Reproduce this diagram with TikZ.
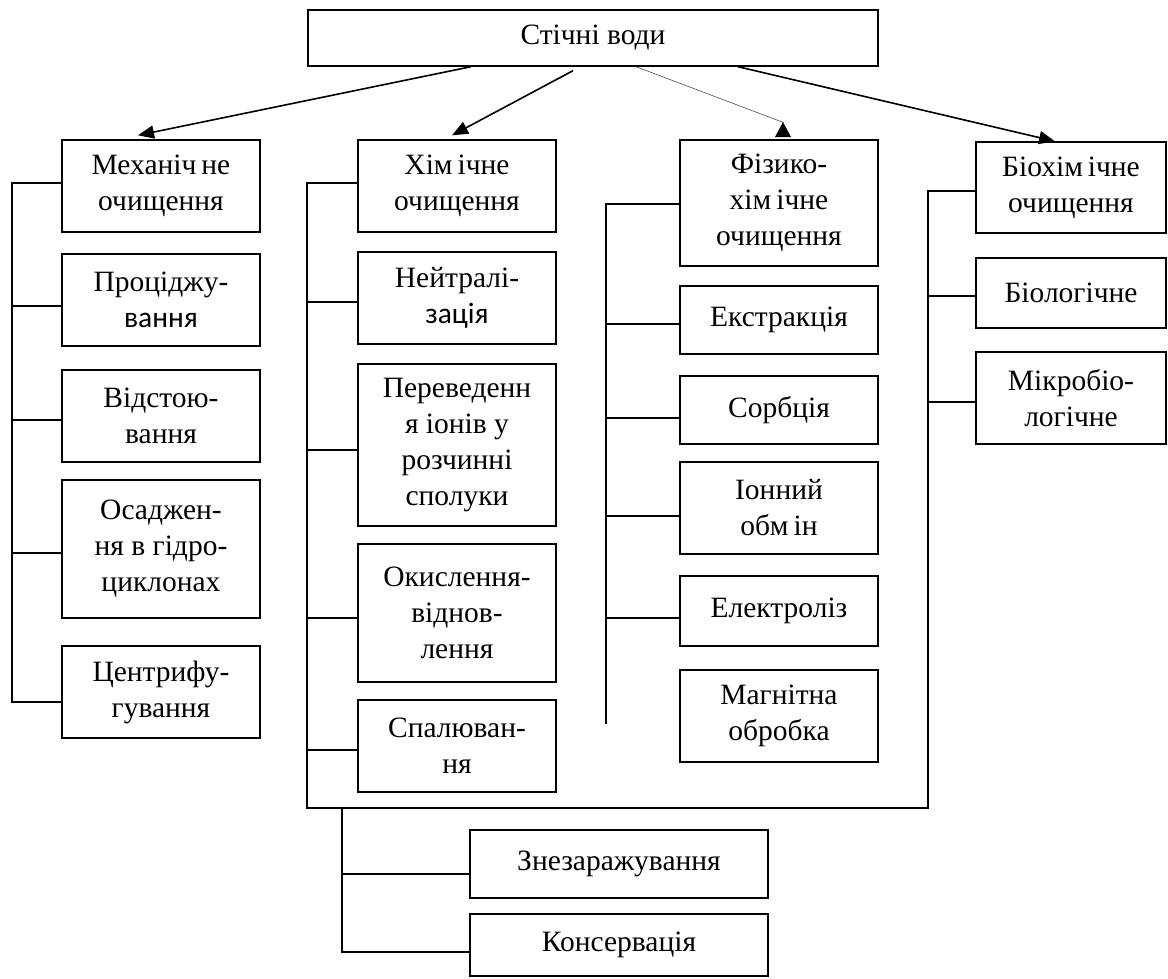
\documentclass[tikz,border=0pt]{standalone}
\usepackage{fontspec}
\setmainfont{Liberation Serif}
\newfontfamily\calfont{Carlito}
\usetikzlibrary{arrows.meta}

% box given by its name, corners (x1,y1) (x2,y2) and text
\newcommand{\boxnode}[6]{%
  \node[box, minimum width={#4-#2}, minimum height={#5-#3}] (#1)
    at ({(#2+#4)/2},{(#3+#5)/2}) {#6};}
\newcommand{\wgap}{\hspace{5pt}}

\begin{document}
\begin{tikzpicture}[x=1pt, y=-1pt,
  box/.style={draw, line width=1.4pt, inner sep=0pt, align=center,
              font=\fontsize{29.5}{36}\selectfont},
  link/.style={line width=1.4pt},
  arr/.style={line width=1.6pt, -{Triangle[length=16pt,width=13pt]}},
  arrthin/.style={line width=0.6pt, draw=black!70,
                  -{Triangle[length=15pt,width=16pt,color=black,fill=black]}}]
\useasboundingbox (0,0) rectangle (1168,978);

% root
\boxnode{top}{308}{10}{878}{66}{Стічні води}

% mechanical treatment
\boxnode{m0}{62}{140}{260}{232}{Механіч\wgap не\\очищення}
\boxnode{m1}{62}{254}{260}{346}{Проціджу-\\{\calfont вання}}
\boxnode{m2}{62}{370}{260}{462}{Відстою-\\вання}
\boxnode{m3}{62}{480}{260}{618}{Осаджен-\\ня в гідро-\\циклонах}
\boxnode{m4}{62}{646}{260}{738}{Центрифу-\\гування}

% chemical treatment
\boxnode{c0}{358}{140}{556}{232}{Хім\wgap ічне\\очищення}
\boxnode{c1}{358}{252}{556}{344}{Нейтралі-\\{\calfont зація}}
\boxnode{c2}{358}{364}{556}{526}{Переведенн\\я іонів у\\розчинні\\сполуки}
\boxnode{c3}{358}{544}{556}{682}{Окислення-\\віднов-\\лення}
\boxnode{c4}{358}{700}{556}{792}{Спалюван-\\ня}

% physico-chemical treatment
\boxnode{p0}{680}{140}{878}{266}{Фізико-\\хім\wgap ічне\\очищення}
\boxnode{p1}{680}{286}{878}{354}{Екстракція}
\boxnode{p2}{680}{376}{878}{444}{Сорбція}
\boxnode{p3}{680}{462}{878}{554}{Іонний\\обм\wgap ін}
\boxnode{p4}{680}{576}{878}{646}{Електроліз}
\boxnode{p5}{680}{670}{878}{762}{Магнітна\\обробка}

% biochemical treatment
\boxnode{b0}{976}{142}{1166}{233}{Біохім\wgap ічне\\очищення}
\boxnode{b1}{976}{258}{1166}{328}{Біологічне}
\boxnode{b2}{976}{352}{1166}{444}{Мікробіо-\\логічне}

% final stages
\boxnode{z1}{470}{830}{768}{898}{Знезаражування}
\boxnode{z2}{470}{914}{768}{976}{Консервація}

% arrows from the root
\draw[arr] ([xshift=-122pt]top.south) -- ([xshift=-23pt,yshift=4pt]m0.north);
\draw[arr] ([xshift=-20pt,yshift=-4pt]top.south) -- ([xshift=-5pt,yshift=4pt]c0.north);
\draw[arrthin] ([xshift=43pt]top.south) -- ([xshift=4pt,yshift=17pt]p0.north) -- ++(0,-0.1);
\draw[arr] ([xshift=145pt]top.south) -- ([xshift=-16pt]b0.north);

% mechanical bus
\coordinate (mEnd) at (12,703);
\draw[link] ([yshift=3pt]m0.west) -| (mEnd);
\draw[link] ([yshift=-6pt]m1.west) -- ++(-50,0);
\draw[link] ([yshift=-4pt]m2.west) -- ++(-50,0);
\draw[link] ([yshift=-4pt]m3.west) -- ++(-50,0);
\draw[link] ([yshift=-10pt]m4.west) -- ++(-50,0);

% chemical bus, joined to the biochemical bus along the bottom
\coordinate (cCorner) at (307,808);
\coordinate (bCorner) at (928,808);
\draw[link] ([yshift=3pt]c0.west) -| (cCorner) -- (bCorner) |- ([yshift=-3.5pt]b0.west);
\draw[link] ([yshift=-4pt]c1.west) -- ++(-51,0);
\draw[link] ([yshift=-5pt]c2.west) -- ++(-51,0);
\draw[link] ([yshift=-5pt]c3.west) -- ++(-51,0);
\draw[link] ([yshift=-4pt]c4.west) -- ++(-51,0);

% physico-chemical bus
\coordinate (pEnd) at (606,724);
\draw[link] ([yshift=-1pt]p0.west) -| (pEnd);
\draw[link] ([yshift=-4pt]p1.west) -- ++(-74,0);
\draw[link] ([yshift=-8pt]p2.west) -- ++(-74,0);
\draw[link] ([yshift=-8pt]p3.west) -- ++(-74,0);
\draw[link] ([yshift=-7pt]p4.west) -- ++(-74,0);

% biochemical ticks
\draw[link] ([yshift=-3pt]b1.west) -- ++(-48,0);
\draw[link] ([yshift=-4pt]b2.west) -- ++(-48,0);

% final stages bus
\coordinate (sTop) at (342,808);
\draw[link] (sTop) |- ([yshift=-10pt]z1.west);
\draw[link] (sTop) |- ([yshift=-7pt]z2.west);
\end{tikzpicture}
\end{document}
